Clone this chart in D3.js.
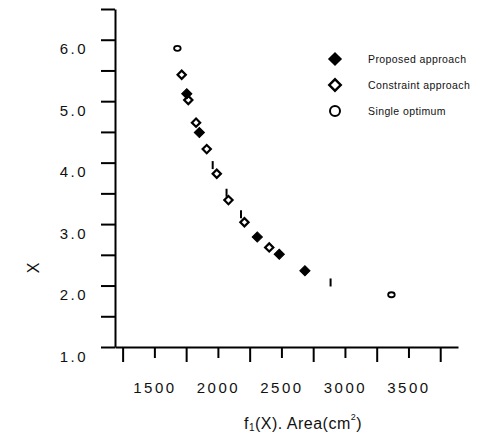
<!DOCTYPE html>
<html>
<head>
<meta charset="utf-8">
<title>pareto</title>
<script src="https://d3js.org/d3.v7.min.js"></script>
<style>
  html, body { margin: 0; padding: 0; background: #fff; }
  svg { font-family: 'Liberation Sans', Arial, sans-serif; }
</style>
</head>
<body>
<div id="chart"></div>
<script>
// data: [area f1, X]
const proposed = [[1755, 5.12], [1854, 4.49], [2310, 2.79], [2483, 2.51], [2685, 2.24]]
const constraint = [[1715, 5.43], [1767, 5.02], [1828, 4.65], [1912, 4.22], [1991, 3.82],
                    [2083, 3.39], [2209, 3.03], [2404, 2.62]]
const single = [[1681, 5.86], [3366, 1.85]]
// stray vertical marks next to some points
const strays = [[1959, 3.96], [2068, 3.51], [2182, 3.16], [2887, 2.05]]

const yTicks = [1, 1.5, 2, 2.5, 3, 3.5, 4, 4.5, 5, 5.5, 6, 6.5]
const xTicks = [1250, 1500, 1750, 2000, 2250, 2500, 2750, 3000, 3250, 3500, 3750]
const xLabels = [1500, 2000, 2500, 3000, 3500]
const legendNames = ['Proposed approach', 'Constraint approach', 'Single optimum']

const width = 479, height = 436

const svg = d3.select('#chart').append('svg')
  .attr('width', width).attr('height', height)

const x = d3.scaleLinear().domain([1190, 3890]).range([115, 458])
const y = d3.scaleLinear().domain([1, 6.5]).range([347, 9])

// y axis
const yAxis = svg.append('g')
  .attr('transform', `translate(${x.range()[0]},0)`)
  .call(d3.axisLeft(y).tickValues(yTicks).tickSize(14).tickSizeOuter(0)
    .tickFormat(d => Number.isInteger(d) && d < 6.5 ? d.toFixed(1) : ''))
yAxis.selectAll('line, path').attr('stroke', '#000').attr('stroke-width', 2)
yAxis.selectAll('text')
  .attr('x', -27).attr('dy', '0.95em')
  .style('font-size', '15px').style('letter-spacing', '2.5px').attr('fill', '#111')

// x axis
const xAxis = svg.append('g')
  .attr('transform', `translate(0,${y.range()[0]})`)
  .call(d3.axisBottom(x).tickValues(xTicks).tickSize(15).tickSizeOuter(0)
    .tickFormat(d => xLabels.includes(d) ? d : ''))
xAxis.selectAll('line, path').attr('stroke', '#000').attr('stroke-width', 2)
xAxis.selectAll('.tick line').attr('y2', d => xLabels.includes(d) ? 11 : 15)
xAxis.selectAll('text')
  .attr('y', 46).attr('dy', 0)
  .style('font-size', '15px').style('letter-spacing', '2.5px').attr('fill', '#111')

// axis titles
const xt = svg.append('text')
  .attr('x', 303).attr('y', 429).attr('text-anchor', 'middle')
  .style('font-size', '16px').style('letter-spacing', '0.5px').attr('fill', '#111')
xt.append('tspan').text('f')
xt.append('tspan').text('1').style('font-size', '10px').attr('dy', 2)
xt.append('tspan').text('(X). Area(cm').attr('dy', -2)
xt.append('tspan').text('2').style('font-size', '9px').attr('dy', -9)
xt.append('tspan').text(')').attr('dy', 9)

svg.append('text')
  .attr('transform', 'translate(39,268) rotate(-90)')
  .attr('text-anchor', 'middle')
  .style('font-size', '16px').attr('fill', '#111')
  .text('X')

// marks
const diamond = s => d3.symbol(d3.symbolSquare, s)()

svg.append('g').selectAll('path')
  .data(constraint).enter().append('path')
  .attr('d', diamond(34))
  .attr('transform', d => `translate(${x(d[0])},${y(d[1])}) rotate(45)`)
  .attr('fill', '#fff').attr('stroke', '#000').attr('stroke-width', 2.2)

svg.append('g').selectAll('path')
  .data(proposed).enter().append('path')
  .attr('d', diamond(52))
  .attr('transform', d => `translate(${x(d[0])},${y(d[1])}) rotate(45)`)
  .attr('fill', '#000').attr('stroke', '#000').attr('stroke-width', 1)

svg.append('g').selectAll('ellipse')
  .data(single).enter().append('ellipse')
  .attr('cx', d => x(d[0])).attr('cy', d => y(d[1]))
  .attr('rx', 3.3).attr('ry', 2.5)
  .attr('fill', 'none').attr('stroke', '#000').attr('stroke-width', 1.8)

svg.append('g').selectAll('line')
  .data(strays).enter().append('line')
  .attr('x1', d => x(d[0])).attr('x2', d => x(d[0]))
  .attr('y1', d => y(d[1]) - 4).attr('y2', d => y(d[1]) + 4)
  .attr('stroke', '#000').attr('stroke-width', 2)

// legend
const legend = svg.append('g').attr('transform', 'translate(335,59)')
const rows = legend.selectAll('g').data(legendNames).enter().append('g')
  .attr('transform', (d, i) => `translate(0,${i * 26})`)
rows.filter((d, i) => i === 0).append('path')
  .attr('d', diamond(100)).attr('transform', 'rotate(45)').attr('fill', '#000')
rows.filter((d, i) => i === 1).append('path')
  .attr('d', diamond(66)).attr('transform', 'rotate(45)')
  .attr('fill', '#fff').attr('stroke', '#000').attr('stroke-width', 2.4)
rows.filter((d, i) => i === 2).append('circle')
  .attr('r', 5).attr('fill', 'none').attr('stroke', '#000').attr('stroke-width', 2)
rows.append('text')
  .attr('x', 33).attr('y', 4)
  .style('font-size', '10.5px').style('letter-spacing', '0.4px').attr('fill', '#111')
  .text(d => d)
</script>
</body>
</html>
